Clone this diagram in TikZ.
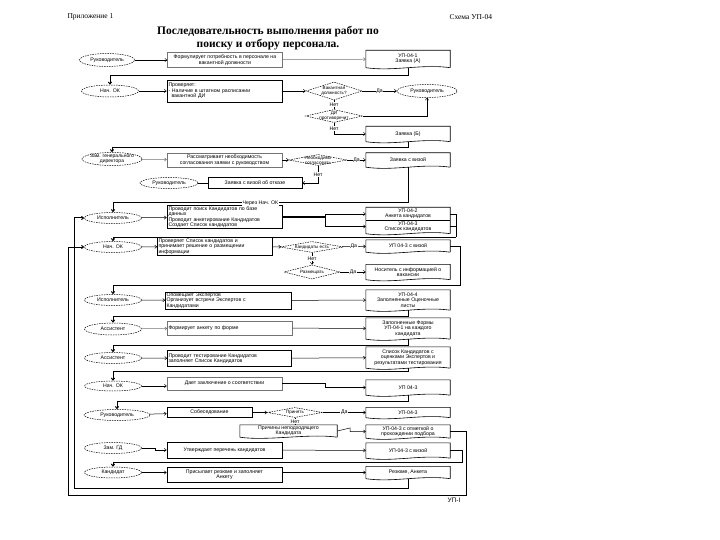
\documentclass[tikz,border=0pt]{standalone}
\usepackage{fontspec}
\setmainfont{Liberation Serif}
\setsansfont{Liberation Sans}
\usetikzlibrary{shapes.geometric,arrows.meta,calc}
\newcommand{\docframe}[1]{%
  \draw[docline] (#1.south east) -- (#1.north east) -- (#1.north west) -- (#1.south west)
    .. controls +(28,4) and +(-28,-4) .. (#1.south east);}

\begin{document}
\begin{tikzpicture}[x=1pt, y=-1pt,
  font=\sffamily\fontsize{5.2}{5.3}\selectfont,
  actor/.style={ellipse, draw=black, dash pattern=on 1.5pt off 1pt, line width=0.5pt,
    inner sep=0pt, minimum width=57pt, minimum height=11pt, align=center},
  task/.style={rectangle, draw=black, line width=0.7pt, inner sep=1pt,
    minimum width=115pt, align=center},
  taskl/.style={task, align=left, text width=112pt},
  taskg/.style={task, draw=black!55, line width=0.4pt},
  check/.style={diamond, draw=black, dash pattern=on 1.5pt off 1pt, line width=0.5pt,
    inner sep=0pt},
  qtext/.style={align=center, inner sep=0pt, font=\sffamily\fontsize{4.6}{4.8}\selectfont},
  doc/.style={rectangle, inner sep=1pt, minimum width=84pt, align=center},
  docline/.style={draw=black, line width=0.6pt},
  flow/.style={-{Straight Barb[length=2pt,width=3.2pt]}, line width=0.5pt},
  pass/.style={flow, line width=1pt},
  tag/.style={fill=white, inner sep=0.6pt},
]
\useasboundingbox (0,0) rectangle (720,540);

% ---- header ----
\node[anchor=west, font=\rmfamily\fontsize{7.5}{8}\selectfont] (annex) at (64,17) {Приложение 1};
\node[anchor=west, font=\rmfamily\fontsize{7.5}{8}\selectfont] (scheme) at (446,17) {Схема УП-04};
\node[font=\rmfamily\bfseries\fontsize{11.5}{12.5}\selectfont, align=center] (title) at (268,38)
  {Последовательность выполнения работ по\\поиску и отбору персонала.};

% ---- row 1 ----
\node[actor, minimum width=55pt, minimum height=13pt] (head1) at (107,60) {Руководитель};
\node[taskg, minimum height=15pt] (need) at (225,60) {Формулирует потребность в персонале на\\вакантной должности};
\node[doc, minimum height=17pt] (reqA) at (408,59) {УП-04-1\\Заявка (А)};

% ---- row 2 ----
\node[actor, minimum height=12pt] (hr1) at (110,91) {Нач. ОК};
\node[taskl, minimum height=22pt] (verify) at (224.5,91)
  {Проверяет:\\- Наличие в штатном расписании\\\hspace*{3pt}вакантной ДИ};
\node[check, minimum width=56pt, minimum height=18pt,
  label={[qtext]center:Вакантная\\должность?}] (qvac) at (334,91) {};
\node[actor, minimum width=60pt, minimum height=13pt] (head1b) at (427,91) {Руководитель};
\node[check, minimum width=57pt, minimum height=13pt,
  label={[qtext]center:ДИ\\противоречит}] (qdi) at (334,116) {};
\node[doc, minimum height=15pt] (reqB) at (408,134) {Заявка (Б)};

% ---- row 3 ----
\node[actor, minimum width=60pt, minimum height=13pt,
  label={[qtext, font=\sffamily\fontsize{5}{5.2}\selectfont]center:Зам. генерального\\директора}] (deputy1) at (112,159) {};
\node[taskg, minimum height=14pt] (review) at (224.5,160) {Рассматривает необходимость\\согласования заявки с руководством};
\node[check, minimum width=58pt, minimum height=11pt,
  label={[qtext]center:Необходимо\\согласовать}] (qagree) at (318,160) {};
\node[doc, minimum height=14pt] (reqvisa) at (408,160) {Заявка с визой};
\node[task, minimum width=94pt, minimum height=11pt] (refuse) at (255,183) {Заявка с визой об отказе};
\node[actor, minimum width=58pt] (head2) at (169,183) {Руководитель};

% ---- row 4 ----
\node[actor] (staff1) at (113,218) {Исполнитель};
\node[taskl, minimum height=20pt] (search) at (224.5,217)
  {Проводит поиск Кандидатов по базе\\данных\\Проводит анкетирование Кандидатов\\Создает Список кандидатов};
\node[doc, minimum height=26pt] (forms) at (408,220.5) {};
\node[inner sep=0pt, align=center] (formsA) at (408,214) {УП-04-2\\Анкета кандидатов};
\node[inner sep=0pt, align=center] (formsB) at (408,226.5) {УП-04-3\\Список кандидатов};

% ---- row 5 ----
\node[actor] (hr2) at (113,247) {Нач. ОК};
\node[taskl, text width=113pt, minimum height=13pt] (decide) at (215,246.5)
  {Проверяет Список кандидатов и\\принимает решение о размещении\\информации};
\node[check, minimum width=63pt, minimum height=11pt,
  label={[qtext]center:Кандидаты есть}] (qcand) at (312,247) {};
\node[doc, minimum height=12pt] (list1) at (408,246) {УП 04-3 с визой};
\node[check, minimum width=56pt, minimum height=14pt,
  label={[qtext]center:Размещать}] (qpost) at (312,272) {};
\node[doc, minimum height=15pt] (medium) at (408,272) {Носитель с информацией о\\вакансии};

% ---- row 6 ----
\node[actor] (staff2) at (113,300) {Исполнитель};
\node[taskl, text width=124pt, minimum height=15pt] (experts) at (228.5,300.5)
  {Оповещает Экспертов\\Организует встречи Экспертов с\\Кандидатами};
\node[doc, minimum height=20pt] (sheets) at (408,300) {УП-04-4\\Заполненные Оценочные\\листы};

% ---- row 7 ----
\node[actor, minimum height=12pt] (asst1) at (113,329) {Ассистент};
\node[taskl, draw=black!55, line width=0.4pt, text width=123pt, minimum height=14pt] (form) at (230,328)
  {Формирует анкету по форме};
\node[doc, minimum height=21pt] (forms2) at (408,328.5) {Заполненные Формы\\УП-04-1 на каждого\\кандидата};

% ---- row 8 ----
\node[actor] (asst2) at (113,358) {Ассистент};
\node[taskl, text width=122pt, minimum height=16pt] (testing) at (229.5,358.5)
  {Проводит тестирование Кандидатов\\заполняет Список Кандидатов};
\node[doc, minimum height=21pt] (ranking) at (408,357.5)
  {Список Кандидатов с\\оценками Экспертов и\\результатами тестирования};

% ---- row 9 ----
\node[actor, minimum height=10pt] (hr3) at (113,386) {Нач. ОК};
\node[taskg, minimum height=13pt] (conclude) at (224.5,383.5) {Дает заключение о соответствии};
\node[doc, minimum height=15pt] (list2) at (408,387.5) {УП 04-3};

% ---- row 10 ----
\node[actor, minimum width=66pt] (head3) at (117,415) {Руководитель};
\node[task, minimum width=85pt, minimum height=10pt] (interview) at (209.5,412.5) {Собеседование};
\node[check, minimum width=55pt, minimum height=10pt,
  label={[qtext]center:Принять}] (qhire) at (295,412.5) {};
\node[doc, minimum height=10pt] (list3) at (408,412.5) {УП-04-3};
\node[doc, minimum width=97pt, minimum height=12pt] (reasons) at (288.5,431) {Причины неподходящего\\Кандидата};
\node[doc, minimum height=13pt] (list3mark) at (408,431.5) {УП-04-3 с отметкой о\\прохождении подбора};

% ---- row 11 ----
\node[actor] (deputy2) at (113,448) {Зам. ГД};
\node[task, minimum height=16pt] (approve) at (224.5,450) {Утверждает перечень кандидатов};
\node[doc, minimum height=15pt] (list3visa) at (408,450.5) {УП-04-3 с визой};

% ---- row 12 ----
\node[actor] (cand) at (113,472.5) {Кандидат};
\node[task, minimum height=15pt] (resume) at (224.5,474.5) {Присылает резюме и заполняет\\Анкету};
\node[doc, minimum height=12pt] (cv) at (408,472.5) {Резюме, Анкета};

\node[anchor=west, font=\sffamily\fontsize{6.5}{6.5}\selectfont] (sheet) at (444,500) {УП-I};

% ---- document outlines ----
\foreach \d in {reqA,reqB,reqvisa,forms,list1,medium,sheets,forms2,ranking,list2,list3,reasons,list3mark,list3visa,cv}
  {\docframe{\d}}
\draw[docline] (forms.west) -- (forms.east);

% ---- turning points of the loops ----
\coordinate (rise1) at (456,237);
\coordinate (rise3) at (460,285);
\coordinate (rise2) at (462,462);
\coordinate (loopin) at (74,488);
\coordinate (loopright) at (466,495);
\coordinate (loopout) at (68,495);

% ---- connectors ----
\draw[flow] (head1) -- (need);
\draw[flow, draw=black!55] (need) -- (reqA);
\draw[pass] (reqA.south) -- (408,76) -| (hr1.north);

\draw[flow] (hr1) -- (verify);
\draw[flow] (verify) -- (qvac);
\draw[flow] (qvac) -- node[tag] (yes1) {Да} (head1b);
\draw (qvac) -- node[tag] (no1) {Нет} (qdi);
\draw[flow] (qdi.east) -| (head1b.south);
\draw[flow] (qdi.south) -- node[tag] (no2) {Нет} (334,134) -- (reqB.west);
\draw[pass] (reqB.south) -- (408,148) -| (deputy1.north);

\draw[flow, draw=black!55] (deputy1) -- (review);
\draw[flow] (review) -- (qagree);
\draw[flow] (qagree) -- node[tag] (yes2) {Да} (reqvisa);
\draw[flow] (qagree.south) -- node[tag] (no3) {Нет} (318,183) -- (refuse.east);
\draw (refuse) -- (head2);
\draw[pass] (reqvisa.south) -- (408,203) -- node[tag] (via) {Через Нач. ОК} (113,203) -- (staff1.north);

\draw[flow] (staff1) -- (search);
\draw[line width=1.3pt] (search.east) -- (325,217) coordinate (fork);
\draw[flow] (fork) |- (forms.west |- formsA);
\draw[flow] (fork) |- (forms.west |- formsB);
\draw (forms.east |- formsA) -| (rise1);
\draw (forms.east |- formsB) -- (forms.east |- formsB -| rise1);
\draw[pass] (rise1) -| (hr2.north);

\draw[flow] (hr2) -- (decide);
\draw[flow] (decide) -- (qcand);
\draw[flow] (qcand) -- node[tag] (yes3) {Да} (list1);
\draw[flow] (qcand) -- node[tag] (no4) {Нет} (qpost);
\draw[flow] (qpost) -- node[tag] (yes4) {Да} (medium);
\draw[pass] (list1.east) -| (rise3) -| (staff2.north);

\draw[flow] (staff2) -- (experts);
\draw[flow] (experts) -- (sheets);
\draw[pass] (sheets.south) -- (408,316) -| (asst1.north);

\draw[flow, draw=black!55] (asst1) -- (form);
\draw[flow] (form) -- (forms2);
\draw[pass] (forms2.south) -- (408,345) -| (asst2.north);

\draw[flow] (asst2) -- (testing);
\draw[flow] (testing) -- (ranking);
\draw[pass] (ranking.south) -- (408,371) -| (hr3.north);

\draw[flow] (hr3) -- (conclude.west |- hr3);
\draw[flow] (conclude.east) -- (325,383.5) |- (list2.west);
\draw[pass] (list2.south) -- (408,401) -| (head3.north);

\draw[flow] (head3) -- (interview);
\draw[flow] (interview) -- (qhire);
\draw[flow] (qhire) -- node[tag] (yes5) {Да} (list3);
\draw (qhire.south) -- node[tag] (no5) {Нет} (qhire.south |- reasons.north);
\draw[flow] (reasons.east) -- (350,428) |- (list3mark.west);

\draw[flow] (deputy2.east) -- (155,448) |- (approve.west);
\draw[flow] (approve) -- (list3visa);
\draw[pass] (list3visa.east) -| (rise2) -| (cand.north);

\draw[flow] (cand.east) -- (cand.east -| resume.west);
\draw[flow] (resume.east |- cv) -- (cv.west);

% ---- return loops ----
\draw[pass] (cv.south) |- (loopin) |- (staff1.west);
\draw[pass] (list3mark.east) -| (loopright) -- (loopout) |- (hr2.west);

\end{tikzpicture}
\end{document}
